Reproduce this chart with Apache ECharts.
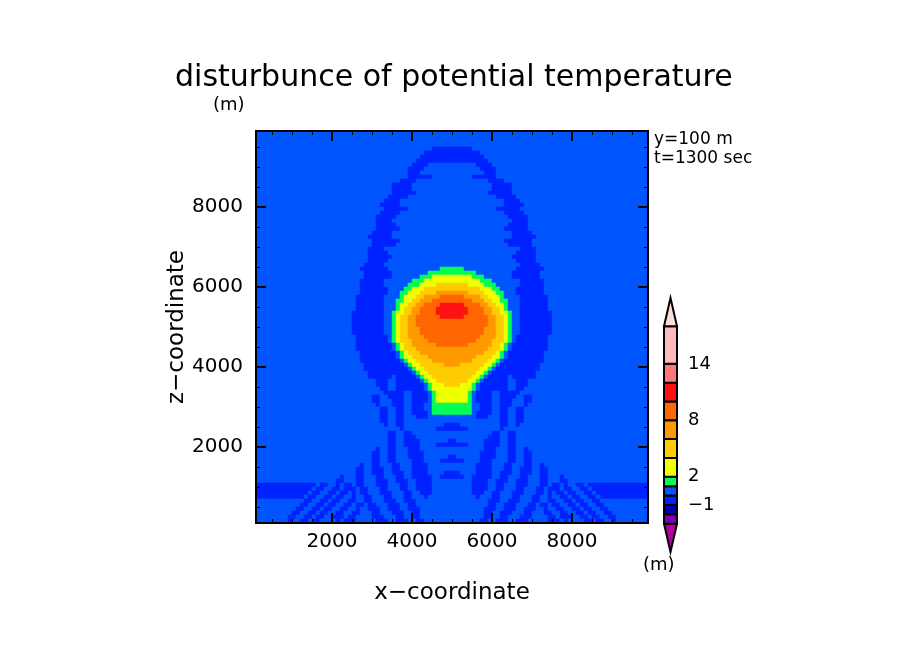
<!DOCTYPE html>
<html>
<head>
<meta charset="utf-8">
<style>html,body{margin:0;background:#fff}#main{width:904px;height:654px}</style>
<script src="https://cdn.jsdelivr.net/npm/echarts@6/dist/echarts.min.js"></script>
</head>
<body>
<div id="main"></div>
<script>
// contour bands, value = middle of the band
var bandValues = {a: 0.5, b: -0.5, g: 1.5, y: 3, o: 5, r: 7, d: 9, e: 11};

// left half of the field (picture is symmetric around x=5000), 100 m cells, top row first
// each token: start column + band letter, a row starts with band a
var fieldRows = [
  "", "", "", "",
  "44b", "42b", "41b", "40b",
  "39b 43a", "38b 42a", "38b 41a", "38b 44a", "36b 40a", "34b 39a", "34b 39a", "34b 40a",
  "33b 38a", "32b 36a", "31b 36a", "32b 38a", "31b 36a", "30b 35a", "30b 34a", "30b 35a",
  "30b 36a", "29b 34a", "28b 34a", "29b 36a", "29b 35a", "28b 32a", "28b 33a", "28b 34a",
  "28b 33a", "27b 32a",
  "26b 33a 46g",
  "27b 34a 43g",
  "27b 34a 41g 44y",
  "26b 32a 39g 42y",
  "26b 32a 38g 41y 45o",
  "26b 33a 37g 39y 42o",
  "26b 33a 36g 38y 41o 45r",
  "25b 32a 36g 37y 40o 42r 46d",
  "25b 32a 35g 37y 39o 41r 44d",
  "25b 32a 35g 36y 38o 40r 42d 46e",
  "25b 32a 35g 36y 37o 39r 41d 45e",
  "24b 32a 34g 35y 37o 39r 41d 45e",
  "24b 32a 34g 35y 36o 38r 40d 46e",
  "24b 32a 34g 35y 36o 38r 40d",
  "24b 32a 34g 35y 36o 38r 40d",
  "24b 32a 34g 35y 36o 38r 41d",
  "24b 32a 34g 35y 36o 38r 41d",
  "25b 33a 34g 35y 36o 38r 42d",
  "25b 33a 34g 35y 36o 39r 43d",
  "25b 34a 35g 36y 37o 39r 45d",
  "25b 34a 35g 36y 37o 40r",
  "26b 35a 36g 37y 38o 41r",
  "26b 35a 36g 37y 39o 43r",
  "26b 36a 37g 38y 40o 44r",
  "27b 37a 38g 39y 41o 47r",
  "27b 38a 39g 40y 42o",
  "28b 39a 40g 41y 43o",
  "28b 34a 35b 40a 41g 42y 44o",
  "30b 33a 35b 41a 42g 43y 45o",
  "30b 33a 35b 42a 43g 44y 47o",
  "31b 33a 35b 42a 43g 44y",
  "32b 37a 39b 43a 44g 45y",
  "29b 31a 33b 37a 39b 43a 44g 45y",
  "29b 31a 34b 37a 39b 43a 44g 45y",
  "30b 31a 34b 37a 39b 42a 44g",
  "31b 33a 35b 37a 39b 42a 44g",
  "31b 33a 35b 37a 39b 43a 44g",
  "31b 33a 35b 37a 40b 43a",
  "31b 33a 35b 37a",
  "32b 33a 35b 37a 47b",
  "36b 37a 45b",
  "33b 35a 37b 39a",
  "33b 35a 37b 40a",
  "33b 35a 37b 41a 48b",
  "33b 35a 37b 41a 45b",
  "30b 31a 33b 35a 38b 41a",
  "29b 31a 33b 35a 38b 42a",
  "29b 31a 33b 35a 38b 42a 48b",
  "29b 31a 33b 35a 39b 42a 46b",
  "26b 27a 29b 31a 34b 36a 39b 43a",
  "25b 27a 29b 32a 34b 36a 39b 43a",
  "25b 27a 29b 32a 34b 37a 39b 43a 47b",
  "21b 22a 25b 27a 30b 32a 35b 37a 39b 44a 46b",
  "20b 22a 25b 27a 30b 33a 35b 38a 40b 44a",
  "0b 15a 16b 18a 20b 21a 22b 24a 25b 27a 30b 33a 36b 38a 40b 44a",
  "0b 14a 15b 17a 19b 21a 22b 25a 26b 28a 31b 33a 36b 38a 40b 44a",
  "0b 13a 14b 16a 18b 20a 21b 23a 24b 25a 26b 28a 31b 34a 37b 39a 41b 44a",
  "0b 12a 13b 15a 17b 19a 20b 22a 24b 25a 27b 29a 32b 34a 37b 39a 42b 43a",
  "12b 14a 16b 18a 19b 21a 23b 25a 27b 29a 32b 35a 37b 40a",
  "11b 13a 15b 17a 18b 20a 22b 24a 25b 27a 28b 30a 33b 36a 38b 40a",
  "10b 12a 14b 16a 17b 19a 21b 23a 25b 26a 28b 31a 33b 36a 38b 41a",
  "9b 11a 13b 15a 16b 18a 20b 22a 24b 26a 29b 31a 34b 37a 39b 41a",
  "8b 10a 12b 14a 15b 17a 19b 22a 23b 25a 29b 32a 35b 37a 39b 41a",
  "8b 9a 11b 13a 14b 16a 20b 21a 22b 25a 30b 33a 35b 38a 40b 42a"
];

var bandEdges = [-6, -3, -2, -1, 0, 1, 2, 4, 6, 8, 10, 12, 14, 18, 21];
var bandColors = ['#b000a0', '#8000b0', '#0000b0', '#0022ff', '#0055ff', '#00ff55', '#eeff00',
  '#ffcc00', '#ff9900', '#ff6600', '#ff1111', '#ff7777', '#ffbbbb', '#ffdddd'];
var legendTicks = [-1, 2, 8, 14];
var majorTicks = [2000, 4000, 6000, 8000];
var minorTicks = [500, 1000, 1500, 2500, 3000, 3500, 4500, 5000, 5500, 6500, 7000, 7500, 8500, 9000, 9500];

var halfCols = 49, nCols = 98, nRows = fieldRows.length;
var heatData = [];
fieldRows.forEach(function (row, r) {
  var half = [];
  for (var i = 0; i < halfCols; i++) half.push(bandValues.a);
  row.split(' ').forEach(function (tok) {
    if (!tok) return;
    var start = parseInt(tok, 10), v = bandValues[tok.slice(-1)];
    for (var c = start; c < halfCols; c++) half[c] = v;
  });
  for (var c = 0; c < nCols; c++) {
    heatData.push([c, r, c < halfCols ? half[c] : half[nCols - 1 - c]]);
  }
});

var pieces = [];
for (var i = 0; i < bandColors.length; i++) {
  pieces.push({gte: bandEdges[i], lt: bandEdges[i + 1], color: bandColors[i]});
}
var legendBands = bandColors.map(function (c, i) { return [bandEdges[i], bandEdges[i + 1], i]; });

var plotBox = {left: 256, top: 131, width: 392, height: 392};
var cols = [], rowsIdx = [];
for (var i = 0; i < nCols; i++) cols.push(i);
for (var i = 0; i < nRows; i++) rowsIdx.push(i);

function valueAxis(grid, pos, ticks, len, wid, extra) {
  var a = {
    type: 'value', gridIndex: grid, position: pos, min: 100, max: 9900, z: 5,
    axisLine: {show: true, onZero: false, lineStyle: {color: '#000', width: 2}},
    axisTick: {show: true, inside: true, length: len, customValues: ticks, lineStyle: {color: '#000', width: wid}},
    axisLabel: {show: false},
    splitLine: {show: false}
  };
  return Object.assign(a, extra || {});
}
var labelStyle = {
  show: true, customValues: majorTicks, color: '#000', fontFamily: 'DejaVu Sans', fontSize: 20,
  formatter: function (v) { return String(v); }
};
var nameStyle = {color: '#000', fontFamily: 'DejaVu Sans', fontSize: 23};
function titleText(text, left, top, size) {
  return {text: text, left: left, top: top,
    textStyle: {color: '#000', fontFamily: 'DejaVu Sans', fontWeight: 'normal', fontSize: size}};
}

var option = {
  backgroundColor: '#fff',
  animation: false,
  title: [
    titleText('disturbunce of potential temperature', 170, 58, 30),
    titleText('(m)', 208, 91, 18),
    titleText('y=100 m', 649, 126, 17),
    titleText('t=1300 sec', 649, 145, 17),
    titleText('(m)', 638, 551, 18)
  ],
  grid: [plotBox, plotBox, plotBox, {left: 664, top: 298, width: 13, height: 254}],
  xAxis: [
    {type: 'category', gridIndex: 0, data: cols, show: false},
    valueAxis(1, 'bottom', majorTicks, 10, 2, {
      axisLabel: Object.assign({margin: 9}, labelStyle),
      name: 'x\u2212coordinate', nameLocation: 'middle', nameGap: 59, nameTextStyle: nameStyle
    }),
    valueAxis(1, 'top', majorTicks, 10, 2),
    valueAxis(2, 'bottom', minorTicks, 4, 1),
    valueAxis(2, 'top', minorTicks, 4, 1),
    {type: 'value', gridIndex: 3, min: 0, max: 1, show: false}
  ],
  yAxis: [
    {type: 'category', gridIndex: 0, data: rowsIdx, inverse: true, show: false},
    valueAxis(1, 'left', majorTicks, 10, 2, {
      axisLabel: Object.assign({margin: 13}, labelStyle),
      name: 'z\u2212coordinate', nameLocation: 'middle', nameGap: 67, nameMoveOverlap: false, nameTextStyle: nameStyle
    }),
    valueAxis(1, 'right', majorTicks, 10, 2),
    valueAxis(2, 'left', minorTicks, 4, 1),
    valueAxis(2, 'right', minorTicks, 4, 1),
    {
      type: 'value', gridIndex: 3, position: 'right', min: -6, max: 21,
      axisLine: {show: false}, axisTick: {show: false}, splitLine: {show: false},
      axisLabel: {
        show: true, customValues: legendTicks, margin: 11, color: '#000',
        fontFamily: 'DejaVu Sans', fontSize: 18, padding: [3, 0, 0, 0],
        formatter: function (v) { return String(v).replace('-', '\u2212'); }
      }
    }
  ],
  visualMap: {show: false, type: 'piecewise', seriesIndex: 0, dimension: 2, pieces: pieces},
  series: [
    {
      type: 'heatmap', xAxisIndex: 0, yAxisIndex: 0, data: heatData, z: 1, progressive: 0,
      itemStyle: {borderWidth: 0}, emphasis: {disabled: true}
    },
    {
      type: 'custom', xAxisIndex: 5, yAxisIndex: 5, data: legendBands, z: 3, silent: true,
      encode: {y: [0, 1]},
      renderItem: function (params, api) {
        var lo = api.value(0), hi = api.value(1), i = api.value(2);
        var style = {fill: bandColors[i], stroke: '#000', lineWidth: 2};
        var pts;
        if (i === 0) {
          pts = [api.coord([0, hi]), api.coord([1, hi]), api.coord([0.5, lo])];
        } else if (i === bandColors.length - 1) {
          pts = [api.coord([0, lo]), api.coord([1, lo]), api.coord([0.5, hi])];
        } else {
          pts = [api.coord([0, lo]), api.coord([1, lo]), api.coord([1, hi]), api.coord([0, hi])];
        }
        return {type: 'polygon', shape: {points: pts}, style: style};
      }
    }
  ]
};

var chart = echarts.init(document.getElementById('main'), null, {renderer: 'canvas'});
chart.setOption(option);
</script>
</body>
</html>
